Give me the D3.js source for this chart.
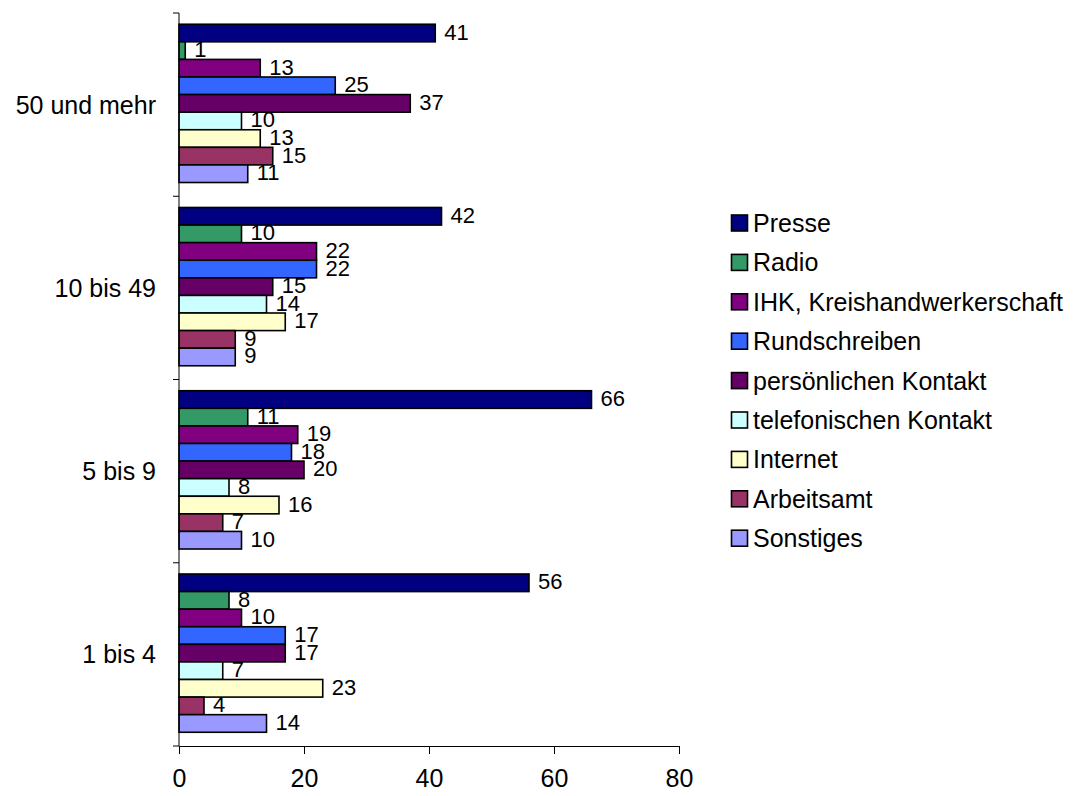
<!DOCTYPE html>
<html>
<head>
<meta charset="utf-8">
<script src="https://cdn.jsdelivr.net/npm/d3@7"></script>
<style>
  body { margin: 0; background: #fff; }
  text { font-family: "Liberation Sans", Arial, sans-serif; fill: #000; }
</style>
</head>
<body>
<div id="chart"></div>
<script>
// categories top to bottom
const categories = ['50 und mehr', '10 bis 49', '5 bis 9', '1 bis 4'];
const seriesNames = ['Presse', 'Radio', 'IHK, Kreishandwerkerschaft', 'Rundschreiben',
  'persönlichen Kontakt', 'telefonischen Kontakt', 'Internet', 'Arbeitsamt', 'Sonstiges'];
const seriesColors = ['#000080', '#339966', '#800080', '#3366ff', '#660066',
  '#ccffff', '#ffffcc', '#993366', '#9999ff'];
// values per category, in series order
const values50 = [41, 1, 13, 25, 37, 10, 13, 15, 11];
const values10 = [42, 10, 22, 22, 15, 14, 17, 9, 9];
const values5 = [66, 11, 19, 18, 20, 8, 16, 7, 10];
const values1 = [56, 8, 10, 17, 17, 7, 23, 4, 14];
const xTicks = [0, 20, 40, 60, 80];

const rows = [values50, values10, values5, values1];

const width = 1086;
const height = 796;
const margin = { top: 13, left: 179, plotRight: 679, bottom: 746 };

const svg = d3.select('#chart')
  .append('svg')
  .attr('width', width)
  .attr('height', height);

// scales
const xScale = d3.scaleLinear()
  .domain([0, 80])
  .range([margin.left, margin.plotRight]);

const yScale = d3.scaleBand()
  .domain(categories)
  .range([margin.top, margin.bottom])
  .padding(0);

const inner = d3.scaleBand()
  .domain(seriesNames)
  .range([0, yScale.bandwidth()])
  .paddingInner(0)
  .paddingOuter(0.71)
  .align(0.45);

// bars
categories.forEach((cat, ci) => {
  const g = svg.append('g')
    .attr('transform', `translate(0, ${yScale(cat)})`);

  const data = rows[ci].map((v, i) => ({ name: seriesNames[i], value: v, color: seriesColors[i] }));

  g.selectAll('rect')
    .data(data)
    .enter()
    .append('rect')
    .attr('x', xScale(0))
    .attr('y', d => inner(d.name))
    .attr('width', d => xScale(d.value) - xScale(0))
    .attr('height', inner.bandwidth())
    .attr('fill', d => d.color)
    .attr('stroke', '#000')
    .attr('stroke-width', 1.6);

  g.selectAll('text.val')
    .data(data)
    .enter()
    .append('text')
    .attr('class', 'val')
    .attr('x', d => xScale(d.value) + 9)
    .attr('y', d => inner(d.name) + inner.bandwidth() / 2 - 1)
    .attr('dominant-baseline', 'central')
    .attr('font-size', 22)
    .text(d => d.value);
});

// x axis
const xAxisGroup = svg.append('g')
  .attr('transform', `translate(0, ${margin.bottom})`)
  .call(d3.axisBottom(xScale).tickValues(xTicks).tickSize(8).tickSizeOuter(0).tickPadding(15));
xAxisGroup.selectAll('text').attr('font-size', 25).style('font-family', '"Liberation Sans", Arial, sans-serif').attr('fill', '#000');
xAxisGroup.selectAll('line, path').attr('stroke', '#000');

// y axis with ticks at category boundaries
const yAxisGroup = svg.append('g')
  .attr('transform', `translate(${margin.left}, 0)`);
yAxisGroup.append('line')
  .attr('x1', 0).attr('x2', 0)
  .attr('y1', margin.top).attr('y2', margin.bottom)
  .attr('stroke', '#000');
const boundaries = categories.map(c => yScale(c)).concat([margin.bottom]);
yAxisGroup.selectAll('line.tick')
  .data(boundaries)
  .enter()
  .append('line')
  .attr('class', 'tick')
  .attr('x1', -6).attr('x2', 0)
  .attr('y1', d => d).attr('y2', d => d)
  .attr('stroke', '#000');
yAxisGroup.selectAll('text')
  .data(categories)
  .enter()
  .append('text')
  .attr('x', -23)
  .attr('y', d => yScale(d) + yScale.bandwidth() / 2)
  .attr('text-anchor', 'end')
  .attr('dominant-baseline', 'central')
  .attr('font-size', 25)
  .text(d => d);

// legend
const legend = svg.append('g')
  .attr('transform', 'translate(731, 223)');
const legendItems = legend.selectAll('g')
  .data(seriesNames)
  .enter()
  .append('g')
  .attr('transform', (d, i) => `translate(0, ${i * 39.4})`);
legendItems.append('rect')
  .attr('x', 0.5)
  .attr('y', -8)
  .attr('width', 16)
  .attr('height', 16)
  .attr('fill', (d, i) => seriesColors[i])
  .attr('stroke', '#000')
  .attr('stroke-width', 1.6);
legendItems.append('text')
  .attr('x', 22)
  .attr('y', 0)
  .attr('dominant-baseline', 'central')
  .attr('font-size', 25)
  .text(d => d);
</script>
</body>
</html>
